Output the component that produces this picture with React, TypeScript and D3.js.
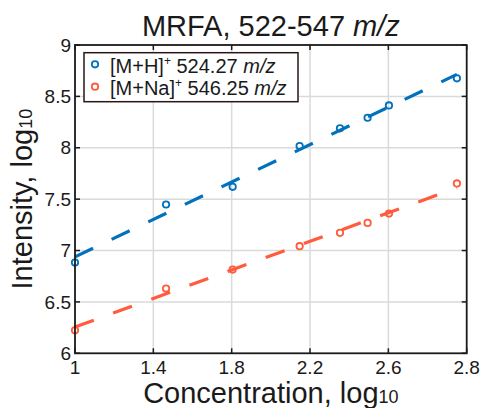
import React from "react";
import * as d3 from "d3";

// Data
const concentration = [1.0, 1.465, 1.805, 2.147, 2.353, 2.494, 2.603, 2.95];
const mhIntensity = [6.883, 7.448, 7.62, 8.016, 8.189, 8.292, 8.412, 8.676];
const mnaIntensity = [6.224, 6.63, 6.815, 7.042, 7.172, 7.269, 7.36, 7.653];
const fitX = [1.0, 2.95];
const mhFit = [6.938, 8.714];
const mnaFit = [6.256, 7.61];

const xTickValues = [1.0, 1.4, 1.8, 2.2, 2.6, 3.0];
const xTickLabels = ["1", "1.4", "1.8", "2.2", "2.6", "2.8"];
const yTickValues = [6, 6.5, 7, 7.5, 8, 8.5, 9];
const yTickLabels = ["6", "6.5", "7", "7.5", "8", "8.5", "9"];

const W = 483;
const H = 408;
const M = { left: 75, right: 466.7, top: 45, bottom: 353.3 };
const BLUE = "#0072BD";
const RED = "#FF5B3C";
const FONT = "'Liberation Sans', Arial, sans-serif";

export default function App() {
  const x = d3.scaleLinear().domain([1, 3]).range([M.left, M.right]);
  const y = d3.scaleLinear().domain([6, 9]).range([M.bottom, M.top]);
  const line = d3
    .line<[number, number]>()
    .x((d) => x(d[0]))
    .y((d) => y(d[1]));

  const series = [
    { vals: mhIntensity, fit: mhFit, color: BLUE },
    { vals: mnaIntensity, fit: mnaFit, color: RED },
  ];
  const tickLen = 5;

  return (
    <svg
      width={W}
      height={H}
      style={{ position: "absolute", left: 0, top: 0, background: "#fff" }}
      fontFamily={FONT}
    >
      <rect x={0} y={0} width={W} height={H} fill="#fff" />
      {/* grid */}
      {xTickValues.slice(1, -1).map((v) => (
        <line key={"gx" + v} x1={x(v)} x2={x(v)} y1={M.top} y2={M.bottom} stroke="#dadada" strokeWidth={1.5} />
      ))}
      {yTickValues.slice(1, -1).map((v) => (
        <line key={"gy" + v} x1={M.left} x2={M.right} y1={y(v)} y2={y(v)} stroke="#dadada" strokeWidth={1.5} />
      ))}
      {/* fit lines */}
      {series.map((s, i) => (
        <path
          key={"fit" + i}
          d={line(fitX.map((fx, j) => [fx, s.fit[j]]) as [number, number][]) || ""}
          fill="none"
          stroke={s.color}
          strokeWidth={3.2}
          strokeDasharray="20 20.6"
        />
      ))}
      {/* markers */}
      {series.map((s, i) =>
        s.vals.map((v, j) => (
          <circle
            key={"m" + i + "-" + j}
            cx={x(concentration[j])}
            cy={y(v)}
            r={3.2}
            fill="none"
            stroke={s.color}
            strokeWidth={1.8}
          />
        ))
      )}
      {/* axes box */}
      <rect
        x={M.left}
        y={M.top}
        width={M.right - M.left}
        height={M.bottom - M.top}
        fill="none"
        stroke="#1a1a1a"
        strokeWidth={1.8}
      />
      {/* ticks */}
      {xTickValues.map((v) => (
        <g key={"xt" + v}>
          <line x1={x(v)} x2={x(v)} y1={M.bottom} y2={M.bottom - tickLen} stroke="#1a1a1a" strokeWidth={1.5} />
          <line x1={x(v)} x2={x(v)} y1={M.top} y2={M.top + tickLen} stroke="#1a1a1a" strokeWidth={1.5} />
        </g>
      ))}
      {yTickValues.map((v) => (
        <g key={"yt" + v}>
          <line x1={M.left} x2={M.left + tickLen} y1={y(v)} y2={y(v)} stroke="#1a1a1a" strokeWidth={1.5} />
          <line x1={M.right} x2={M.right - tickLen} y1={y(v)} y2={y(v)} stroke="#1a1a1a" strokeWidth={1.5} />
        </g>
      ))}
      {/* tick labels */}
      {xTickValues.map((v, i) => (
        <text key={"xl" + v} x={x(v)} y={374} textAnchor="middle" fontSize={19} fill="#1a1a1a">
          {xTickLabels[i]}
        </text>
      ))}
      {yTickValues.map((v, i) => (
        <text key={"yl" + v} x={71} y={y(v)} dy="0.35em" textAnchor="end" fontSize={19} fill="#1a1a1a">
          {yTickLabels[i]}
        </text>
      ))}
      {/* axis labels */}
      <text x={(M.left + M.right) / 2} y={403} textAnchor="middle" fontSize={29} fill="#1a1a1a">
        Concentration, log
        <tspan fontSize={18} dy={0}>10</tspan>
      </text>
      <text
        transform={`translate(32, ${(M.top + M.bottom) / 2}) rotate(-90)`}
        textAnchor="middle"
        fontSize={29}
        fill="#1a1a1a"
      >
        Intensity, log
        <tspan fontSize={18} dy={0}>10</tspan>
      </text>
      {/* title */}
      <text x={(M.left + M.right) / 2} y={36} textAnchor="middle" fontSize={29} fill="#1a1a1a">
        MRFA, 522-547 <tspan fontStyle="italic">m/z</tspan>
      </text>
      {/* legend */}
      <rect x={84} y={52.7} width={214} height={49} fill="#fff" stroke="#2a1616" strokeWidth={1.5} />
      <circle cx={95} cy={64.3} r={3.2} fill="none" stroke={BLUE} strokeWidth={1.8} />
      <circle cx={95} cy={86.7} r={3.2} fill="none" stroke={RED} strokeWidth={1.8} />
      <text x={110} y={72.5} fontSize={20} fill="#1a1a1a">
        [M+H]<tspan fontSize={12} dy={-8}>+</tspan>
        <tspan dy={8}> 524.27 </tspan>
        <tspan fontStyle="italic">m/z</tspan>
      </text>
      <text x={110} y={95} fontSize={20} fill="#1a1a1a">
        [M+Na]<tspan fontSize={12} dy={-8}>+</tspan>
        <tspan dy={8}> 546.25 </tspan>
        <tspan fontStyle="italic">m/z</tspan>
      </text>
    </svg>
  );
}
